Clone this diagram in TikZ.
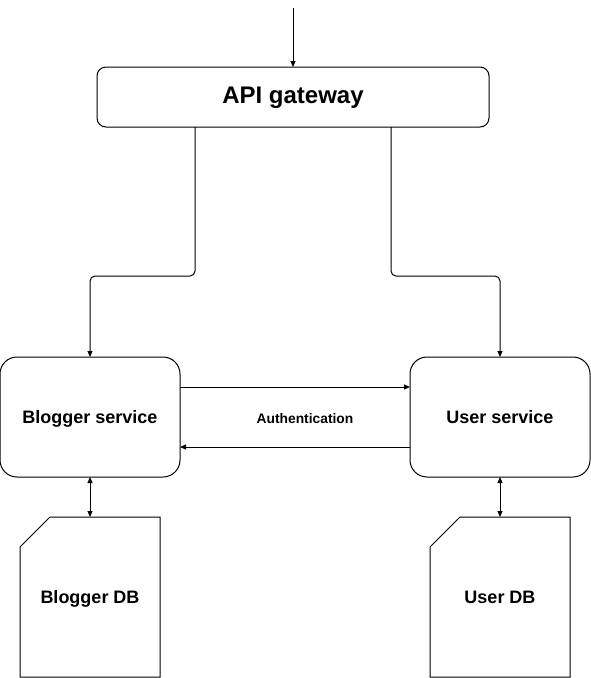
\documentclass[tikz,border=0pt]{standalone}
\usepackage{fontspec}
\setmainfont{Liberation Sans}
\usetikzlibrary{arrows.meta,calc}
\tikzset{
  conn/.style={line width=1pt,-{Triangle[length=6pt,width=5pt]}},
  dconn/.style={line width=1pt,{Triangle[length=6pt,width=5pt]}-{Triangle[length=6pt,width=5pt]}},
  txt/.style={text height=0.72em+8pt,text depth=0.21em},
  gwbox/.style={txt,draw,line width=1pt,rounded corners=9pt,minimum width=392pt,minimum height=60pt,inner sep=0pt,outer sep=0pt,font=\fontsize{24}{28}\selectfont\bfseries},
  svcbox/.style={txt,draw,line width=1pt,rounded corners=17pt,minimum width=180pt,minimum height=120pt,inner sep=0pt,outer sep=0pt,font=\fontsize{18}{22}\selectfont\bfseries},
  dbbox/.style={txt,minimum width=140pt,minimum height=160pt,inner sep=0pt,outer sep=0pt,font=\fontsize{18}{22}\selectfont\bfseries},
  lbl/.style={text height=0.72em+6pt,text depth=0.21em,font=\fontsize{13.8}{16}\selectfont\bfseries}
}
\begin{document}
\begin{tikzpicture}[x=1pt,y=-1pt]
\useasboundingbox (0,0) rectangle (591,678);
\coordinate (top) at (293,8);
\node[gwbox] (gw) at (293,97) {API gateway};
\node[svcbox] (bs) at (90,417) {Blogger service};
\node[svcbox] (us) at (500,417) {User service};
\node[dbbox] (bdb) at (90,597) {Blogger DB};
\node[dbbox] (udb) at (500,597) {User DB};
\node[lbl] (auth) at (305,418) {Authentication};
\foreach \d in {bdb,udb}{
  \draw[line width=1pt] ($(\d.north west)+(30pt,0pt)$) -- (\d.north east) -- (\d.south east) -- (\d.south west) -- ($(\d.north west)+(0pt,-30pt)$) -- cycle;
}
\draw[conn] (top) -- (gw.north);
\draw[conn,rounded corners=5pt] ([xshift=-98pt]gw.south) -- ++(0,149) -| (bs.north);
\draw[conn,rounded corners=5pt] ([xshift=98pt]gw.south) -- ++(0,149) -| (us.north);
\draw[conn] ([yshift=30pt]bs.east) -- ([yshift=30pt]us.west);
\draw[conn] ([yshift=-30pt]us.west) -- ([yshift=-30pt]bs.east);
\draw[dconn] (bs.south) -- (bdb.north);
\draw[dconn] (us.south) -- (udb.north);
\end{tikzpicture}
\end{document}
